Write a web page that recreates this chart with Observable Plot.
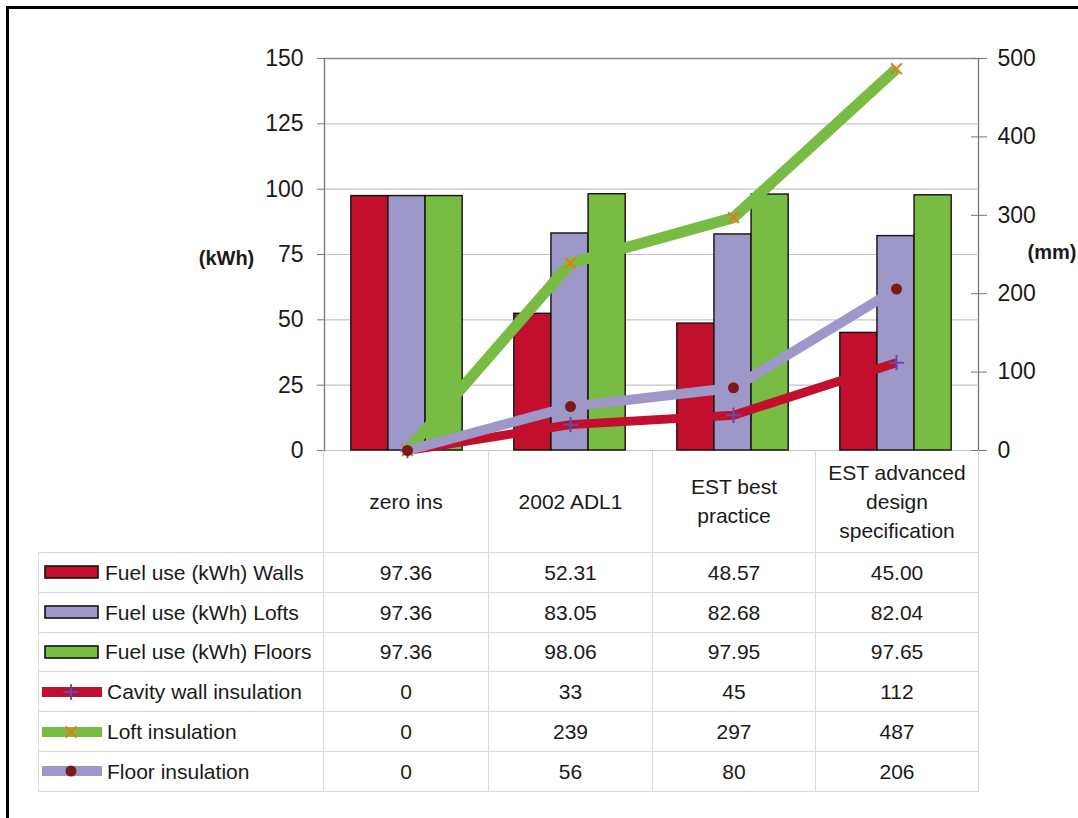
<!DOCTYPE html>
<html><head><meta charset="utf-8">
<script src="https://cdn.jsdelivr.net/npm/d3@7"></script>
<script src="https://cdn.jsdelivr.net/npm/@observablehq/plot@0.6"></script>
<style>
html,body{margin:0;padding:0;background:#fff;overflow:hidden;}
#wrap{position:relative;width:1078px;height:818px;font-family:"Liberation Sans",Arial,sans-serif;color:#1a1a1a;overflow:hidden;}
#frame{position:absolute;left:6px;top:6px;width:1200px;height:1000px;border-top:3px solid #000;border-left:3px solid #000;}
.layer{position:absolute;left:0;top:0;}
#tbl{position:absolute;left:38px;top:450px;border-collapse:collapse;table-layout:fixed;font-size:21px;width:940px;}
#tbl td{border:1px solid #d8d8d8;text-align:center;padding:0;line-height:29px;}
#tbl tr.hdr td{height:102px;border-top:none;padding:0 10px;}
#tbl tr.hdr td.blank{border:none;}
#tbl tr.row td{height:38.8px;}
#tbl td.lab{text-align:left;white-space:nowrap;}
#tbl td.lab svg{vertical-align:middle;margin-left:3px;margin-right:5px;position:relative;top:-2px;}
</style>
</head><body>
<div id="wrap"><div id="frame"></div></div>
<script>
// ---- data ----
const categories = ["zero ins", "2002 ADL1", "EST best practice", "EST advanced design specification"];
const barSeries = ["Fuel use (kWh) Walls", "Fuel use (kWh) Lofts", "Fuel use (kWh) Floors"];
const wallsKWh = [97.36, 52.31, 48.57, 45.00];
const loftsKWh = [97.36, 83.05, 82.68, 82.04];
const floorsKWh = [97.36, 98.06, 97.95, 97.65];
const lineSeries = ["Cavity wall insulation", "Loft insulation", "Floor insulation"];
const cavityMM = [0, 33, 45, 112];
const loftMM = [0, 239, 297, 487];
const floorMM = [0, 56, 80, 206];
const kwhTicks = [0, 25, 50, 75, 100, 125, 150];
const mmTicks = [0, 100, 200, 300, 400, 500];

// ---- styles ----
const barColors = ["#C20F2D", "#9E98C8", "#78BC43"];
const lineColors = ["#C20F2D", "#78BC43", "#9E98C8"];
const lineWidths = [9, 11, 10];
const markerSymbols = ["plus", "times", "circle"];
const markerColors = ["#5A4FB0", "#E8781E", "#7A1A1A"];
const font = '"Liberation Sans", Arial, sans-serif';

const barValues = [wallsKWh, loftsKWh, floorsKWh];
const lineValues = [cavityMM, loftMM, floorMM];
const barData = categories.flatMap((c, i) => barSeries.map((s, j) => ({category: c, series: s, value: barValues[j][i]})));
const lineData = categories.flatMap((c, i) => lineSeries.map((s, j) => ({category: c, series: s, mm: lineValues[j][i]})));

const common = {
  width: 1078, height: 460,
  marginLeft: 324, marginRight: 100, marginTop: 58, marginBottom: 10,
  style: {background: "transparent", fontFamily: font, fontSize: "23px", color: "#1a1a1a", overflow: "visible"}
};

const plotA = Plot.plot({
  ...common,
  fx: {domain: categories, padding: 0, axis: null, label: null},
  x: {domain: barSeries, paddingInner: 0, paddingOuter: 0.696, axis: null, round: false},
  y: {domain: [0, 150]},
  color: {domain: barSeries, range: barColors},
  marks: [
    Plot.ruleY(kwhTicks.filter(t => t < 150), {stroke: "#c4c4c4", strokeWidth: 1.2}),
    Plot.ruleY([150], {stroke: "#8a8a8a", strokeWidth: 1.5}),
    Plot.barY(barData, {fx: "category", x: "series", y: "value", fill: "series", stroke: "#111", strokeWidth: 1.4}),
    Plot.axisY(kwhTicks, {anchor: "left", tickSize: 8, tickPadding: 14, stroke: "#777", fontSize: 23, label: null})
  ]
});
plotA.classList.add("layer");

const lineMarks = lineSeries.flatMap((s, j) => {
  const d = lineData.filter(r => r.series === s);
  const m = markerSymbols[j] === "circle"
    ? Plot.dot(d, {x: "category", y: "mm", r: 5.5, fill: markerColors[j], stroke: "none"})
    : Plot.dot(d, {x: "category", y: "mm", r: 5, symbol: markerSymbols[j], stroke: markerColors[j], strokeWidth: 2});
  return [
    Plot.line(d, {x: "category", y: "mm", stroke: lineColors[j], strokeWidth: lineWidths[j], strokeLinecap: "butt", strokeLinejoin: "round"}),
    m
  ];
});

const plotB = Plot.plot({
  ...common,
  x: {type: "point", domain: categories, padding: 0.5, axis: null},
  y: {domain: [0, 500]},
  marks: [
    Plot.frame({anchor: "left", stroke: "#777", strokeWidth: 1.3}),
    Plot.frame({anchor: "right", stroke: "#777", strokeWidth: 1.3}),
    Plot.axisY(mmTicks, {anchor: "right", tickSize: 16, dx: -8, tickPadding: 11, stroke: "#777", fontSize: 23, label: null}),
    ...lineMarks,
    Plot.text(["(kWh)"], {text: d => d, frameAnchor: "left", dx: -98, dy: 4, fontWeight: "bold", fontSize: 20, textAnchor: "middle"}),
    Plot.text(["(mm)"], {text: d => d, frameAnchor: "right", dx: 49, dy: -2, fontWeight: "bold", fontSize: 20, textAnchor: "start"})
  ]
});
plotB.classList.add("layer");

const wrap = document.getElementById("wrap");
wrap.appendChild(plotA);
wrap.appendChild(plotB);

// ---- data table with legend keys ----
function barKey(color) {
  return `<svg width="58" height="16"><rect x="3" y="2" width="53" height="12" fill="${color}" stroke="#111" stroke-width="1.6"/></svg>`;
}
function lineKey(color, symbol, mcolor) {
  let mk;
  if (symbol === "circle") mk = `<circle cx="29" cy="8" r="5.5" fill="${mcolor}"/>`;
  else {
    const p = d3.symbol(symbol === "plus" ? d3.symbolPlus : d3.symbolTimes, 80)();
    mk = `<path d="${p}" transform="translate(29,8)" fill="none" stroke="${mcolor}" stroke-width="2"/>`;
  }
  return `<svg width="60" height="16"><rect x="0" y="3" width="60" height="10" fill="${color}"/>${mk}</svg>`;
}
const tbl = document.createElement("table");
tbl.id = "tbl";
let html = `<colgroup><col style="width:285px"><col style="width:165px"><col style="width:164px"><col style="width:163px"><col style="width:163px"></colgroup>`;
html += `<tr class="hdr"><td class="blank"></td>${categories.map(c => `<td>${c}</td>`).join("")}</tr>`;
barSeries.forEach((s, j) => {
  html += `<tr class="row"><td class="lab">${barKey(barColors[j])}${s}</td>${barValues[j].map(v => `<td>${v.toFixed(2)}</td>`).join("")}</tr>`;
});
lineSeries.forEach((s, j) => {
  html += `<tr class="row"><td class="lab">${lineKey(lineColors[j], markerSymbols[j], markerColors[j])}${s}</td>${lineValues[j].map(v => `<td>${v}</td>`).join("")}</tr>`;
});
tbl.innerHTML = html;
wrap.appendChild(tbl);
</script>
</body></html>
